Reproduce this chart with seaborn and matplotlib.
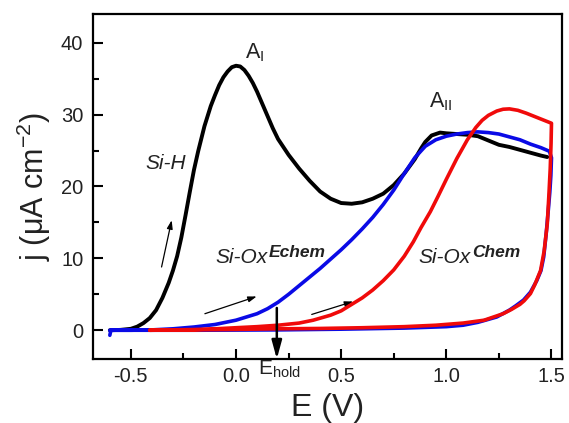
import matplotlib
matplotlib.use("Agg")
import matplotlib.pyplot as plt
import seaborn as sns
import numpy as np

# ---------------- data ----------------
# Si-H (black), forward scan
sih_E = [-0.60, -0.55, -0.50, -0.47, -0.44, -0.41, -0.38, -0.35, -0.32, -0.30,
         -0.28, -0.26, -0.24, -0.22, -0.20, -0.18, -0.15, -0.12, -0.10, -0.08,
         -0.06, -0.04, -0.02, 0.00, 0.02, 0.04, 0.06, 0.08, 0.10, 0.125,
         0.15, 0.175, 0.20, 0.25, 0.30, 0.35, 0.40, 0.45, 0.50, 0.55,
         0.60, 0.65, 0.70, 0.75, 0.80, 0.85, 0.88, 0.90, 0.93, 0.97,
         1.00, 1.05, 1.10, 1.15, 1.20, 1.25, 1.30, 1.35, 1.40, 1.45, 1.48]
sih_j = [0.0, 0.05, 0.2, 0.5, 1.0, 1.7, 2.8, 4.5, 6.6, 8.3,
         10.3, 12.9, 16.0, 19.2, 22.3, 24.9, 28.4, 31.2, 32.7, 34.1,
         35.2, 36.0, 36.6, 36.8, 36.7, 36.2, 35.4, 34.4, 33.2, 31.5,
         29.8, 28.1, 26.6, 24.4, 22.5, 20.8, 19.3, 18.3, 17.7, 17.6,
         17.8, 18.3, 19.0, 20.2, 21.8, 23.8, 25.3, 26.2, 27.1, 27.5,
         27.4, 27.3, 27.2, 27.0, 26.4, 25.8, 25.5, 25.1, 24.7, 24.3, 24.1]

# Si-Ox Echem (blue), forward + reverse scan
echem_E = [-0.60, -0.595, -0.55, -0.50, -0.40, -0.30, -0.20, -0.10, 0.00, 0.10,
           0.15, 0.20, 0.25, 0.30, 0.35, 0.40, 0.45, 0.50, 0.55, 0.60, 0.65,
           0.70, 0.75, 0.80, 0.85, 0.90, 0.95, 1.00, 1.05, 1.10, 1.15,
           1.20, 1.25, 1.30, 1.35, 1.40, 1.45, 1.49, 1.50,
           1.497, 1.492, 1.486, 1.475, 1.463, 1.45, 1.43, 1.40, 1.367, 1.33,
           1.30, 1.24, 1.15, 1.08, 1.00, 0.80, 0.50, 0.20, -0.20, -0.60]
echem_j = [-0.7, 0.0, 0.0, 0.0, 0.05, 0.2, 0.45, 0.8, 1.4, 2.3,
           3.0, 3.9, 5.0, 6.2, 7.4, 8.6, 9.9, 11.2, 12.6, 14.1, 15.7,
           17.5, 19.5, 21.8, 24.0, 25.6, 26.5, 27.0, 27.3, 27.5, 27.6,
           27.5, 27.3, 26.9, 26.5, 25.9, 25.4, 24.9, 24.0,
           21.5, 19.2, 17.1, 13.5, 10.2, 8.3, 6.9, 5.3, 4.2, 3.4,
           2.8, 1.85, 1.1, 0.7, 0.5, 0.3, 0.15, 0.05, 0.0, 0.0]

# Si-Ox Chem (red), forward + reverse scan
chem_E = [-0.41, -0.30, -0.20, -0.10, 0.00, 0.10, 0.20, 0.30, 0.367, 0.45,
          0.50, 0.55, 0.60, 0.65, 0.70, 0.75, 0.80, 0.843, 0.88, 0.924,
          0.96, 1.00, 1.05, 1.10, 1.14, 1.17, 1.20, 1.24, 1.27, 1.30,
          1.34, 1.38, 1.44, 1.50,
          1.498, 1.494, 1.488, 1.48, 1.465, 1.448, 1.42, 1.40, 1.37, 1.35,
          1.31, 1.27, 1.18, 1.08, 0.95, 0.80, 0.60, 0.40, 0.20, 0.00,
          -0.20, -0.41]
chem_j = [0.0, 0.05, 0.1, 0.2, 0.35, 0.5, 0.7, 1.0, 1.4, 2.1,
          2.7, 3.6, 4.5, 5.6, 6.9, 8.4, 10.3, 12.3, 14.3, 16.5,
          18.6, 21.0, 23.9, 26.5, 28.2, 29.2, 29.9, 30.5, 30.75, 30.8,
          30.6, 30.2, 29.5, 28.8,
          26.0, 22.5, 19.0, 14.8, 11.0, 8.3, 6.3, 5.1, 4.1, 3.6,
          2.9, 2.3, 1.4, 1.0, 0.7, 0.5, 0.35, 0.25, 0.2, 0.12,
          0.05, 0.0]

x_ticks = [-0.5, 0.0, 0.5, 1.0, 1.5]
x_ticklabels = ["-0.5", "0.0", "0.5", "1.0", "1.5"]
y_ticks = [0, 10, 20, 30, 40]
y_ticklabels = ["0", "10", "20", "30", "40"]
E_hold = 0.194

# ---------------- style ----------------
sns.set_style("white")
plt.rcParams['font.family'] = ['Liberation Sans', 'DejaVu Sans']
plt.rcParams['mathtext.fontset'] = 'custom'
plt.rcParams['mathtext.rm'] = 'Liberation Sans'
plt.rcParams['mathtext.it'] = 'Liberation Sans:italic'
plt.rcParams['mathtext.bf'] = 'Liberation Sans:bold'
plt.rcParams['lines.solid_joinstyle'] = 'round'
plt.rcParams['lines.solid_capstyle'] = 'round'

W, H = 569, 423
fig = plt.figure(figsize=(W / 100, H / 100), dpi=100)
fig.patch.set_facecolor('white')
ax = fig.add_axes([93 / W, 1 - 359 / H, (562 - 93) / W, (359 - 14) / H])

sns.lineplot(x=sih_E, y=sih_j, sort=False, estimator=None, color='black',
             lw=2.8, ax=ax, zorder=3)
sns.lineplot(x=echem_E, y=echem_j, sort=False, estimator=None, color='#0a0ae6',
             lw=2.6, ax=ax, zorder=4)
sns.lineplot(x=chem_E, y=chem_j, sort=False, estimator=None, color='#f00a0a',
             lw=2.6, ax=ax, zorder=5)

ax.set_xlim(-0.68, 1.55)
ax.set_ylim(-4, 44)
ax.set_xticks(x_ticks)
ax.set_xticklabels(x_ticklabels)
ax.set_yticks(y_ticks)
ax.set_yticklabels(y_ticklabels)
ax.set_xticks(np.arange(-0.5, 1.51, 0.25), minor=True)
ax.set_yticks(np.arange(5, 41, 10), minor=True)

for s in ax.spines.values():
    s.set_visible(True)
    s.set_linewidth(1.6)
    s.set_color('black')

ax.tick_params(which='both', direction='in', top=False, right=False,
               left=True, bottom=True, color='black', width=1.5)
ax.tick_params(which='major', length=7, labelsize=14.5, labelcolor='#222222')
ax.tick_params(which='minor', length=4.5)
ax.tick_params(axis='x', which='major', pad=6)
ax.tick_params(axis='y', which='major', pad=7)

ax.set_xlabel("E (V)", fontsize=23, labelpad=5, color='#222222')
ax.set_ylabel(r"j ($\mathrm{\mu}$A cm$^{-2}$)", fontsize=22, labelpad=6,
              color='#222222')
ax.grid(False)

txtc = '#222222'
# labels
ax.text(-0.433, 22.5, "Si-H", fontsize=15, style='italic', color=txtc,
        ha='left', va='baseline')
ax.text(0.043, 37.8, r"A$_{\mathrm{I}}$", fontsize=15.5, color=txtc,
        ha='left', va='baseline')
ax.text(0.919, 31.0, r"A$_{\mathrm{II}}$", fontsize=15.5, color=txtc,
        ha='left', va='baseline')

t1 = ax.text(-0.10, 9.3, "Si-Ox", fontsize=15, style='italic', color=txtc,
             ha='left', va='baseline')
ax.annotate("Echem", xy=(1.0, 0.55), xycoords=t1, xytext=(1, 0),
            textcoords='offset points', fontsize=12.5, style='italic',
            weight='bold', color=txtc, ha='left', va='baseline')
t2 = ax.text(0.867, 9.3, "Si-Ox", fontsize=15, style='italic', color=txtc,
             ha='left', va='baseline')
ax.annotate("Chem", xy=(1.0, 0.55), xycoords=t2, xytext=(1, 0),
            textcoords='offset points', fontsize=12.5, style='italic',
            weight='bold', color=txtc, ha='left', va='baseline')

ax.text(0.105, -6.25, r"E$_{\mathrm{hold}}$", fontsize=15, color=txtc,
        ha='left', va='baseline', clip_on=False)

# arrows
thin = dict(arrowstyle='-|>,head_length=0.5,head_width=0.17', lw=0.9,
            color='black', shrinkA=0, shrinkB=0, mutation_scale=10)
ax.annotate("", xy=(-0.306, 15.3), xytext=(-0.354, 8.8), arrowprops=thin)
ax.annotate("", xy=(0.098, 4.7), xytext=(-0.148, 2.3), arrowprops=thin)
ax.annotate("", xy=(0.557, 4.0), xytext=(0.36, 2.2), arrowprops=thin)

thick = dict(arrowstyle='-|>,head_length=1.1,head_width=0.3', lw=1.8,
             color='black', shrinkA=0, shrinkB=0, mutation_scale=10)
ax.annotate("", xy=(E_hold, -4.0), xytext=(E_hold, 3.1), arrowprops=thick,
            zorder=6)

fig.savefig("out.png", dpi=100, facecolor='white')
